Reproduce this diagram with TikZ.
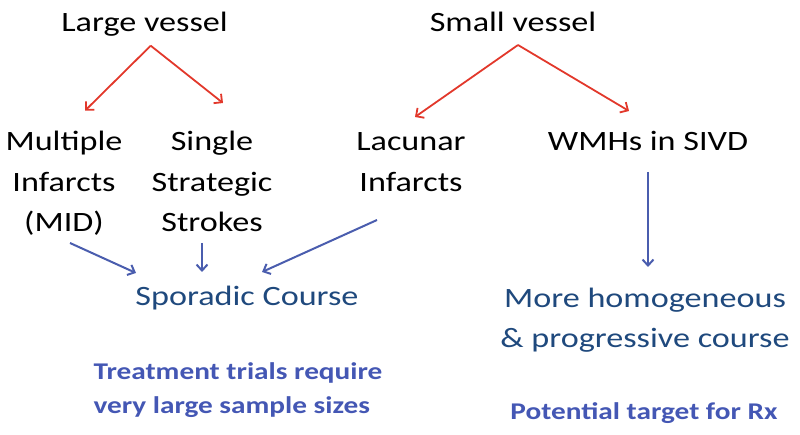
\documentclass[tikz,border=0pt]{standalone}
\usepackage{fontspec}
\setmainfont{Carlito}
\newfontfamily\txtfont[FakeStretch=1.22]{Carlito}
\usetikzlibrary{arrows.meta}
\definecolor{redarr}{RGB}{226,56,43}
\definecolor{bluearr}{RGB}{74,93,174}
\definecolor{darkblue}{RGB}{31,73,125}
\definecolor{boldblue}{RGB}{68,87,180}
\tikzset{
  lbl/.style={inner sep=0pt, anchor=base, align=center, font=\txtfont\fontsize{28}{40.5}\selectfont},
  bluelbl/.style={lbl, text=darkblue},
  boldlbl/.style={inner sep=0pt, anchor=base, text=boldblue, font=\txtfont\bfseries\fontsize{24}{34}\selectfont},
  redarrow/.style={draw=redarr, line width=1.8pt, -{Straight Barb[length=6pt,width=12pt]}},
  bluearrow/.style={draw=bluearr, line width=2pt, -{Straight Barb[length=6pt,width=11pt]}}
}
\begin{document}
\begin{tikzpicture}[x=1pt,y=-1pt]
\useasboundingbox (0,0) rectangle (800,435);
% headers (base anchor = baseline of last line)
\node[lbl] (lv) at (144.5,32) {Large vessel};
\node[lbl] (sv) at (513,32) {Small vessel};
% second row
\node[lbl] (mid) at (64,231.7) {Multiple\\Infarcts\\(MID)};
\node[lbl] (sss) at (212,231.7) {Single\\Strategic\\Strokes};
\node[lbl] (lac) at (411,191.5) {Lacunar\\Infarcts};
\node[lbl] (wmh) at (648,150.7) {WMHs in SIVD};
% outcome
\node[bluelbl] (spo) at (247,306) {Sporadic Course};
\node[bluelbl] (hom) at (645,348) {More homogeneous\\\& progressive course};
\node[boldlbl, align=left] (trt) at (238,413) {Treatment trials require\\very large sample sizes};
\node[boldlbl] (pot) at (644,419) {Potential target for Rx};
% connector end points
\coordinate (lvA) at (150.7,45.7);
\coordinate (svA) at (518,45);
\coordinate (midT) at (85,110.7);
\coordinate (sssT) at (223,103);
\coordinate (lacT) at (415,117);
\coordinate (wmhT) at (629,111);
\coordinate (midS) at (70,243);
\coordinate (sssS) at (202,243);
\coordinate (lacS) at (377,220);
\coordinate (wmhS) at (648,172);
\coordinate (spoL) at (136,273);
\coordinate (spoM) at (202,272);
\coordinate (spoR) at (262,272);
\coordinate (homT) at (648,267);
% red arrows
\draw[redarrow] (lvA) -- (midT);
\draw[redarrow] (lvA) -- (sssT);
\draw[redarrow] (svA) -- (lacT);
\draw[redarrow] (svA) -- (wmhT);
% blue arrows
\draw[bluearrow] (midS) -- (spoL);
\draw[bluearrow] (sssS) -- (spoM);
\draw[bluearrow] (lacS) -- (spoR);
\draw[bluearrow] (wmhS) -- (homT);
\end{tikzpicture}
\end{document}
